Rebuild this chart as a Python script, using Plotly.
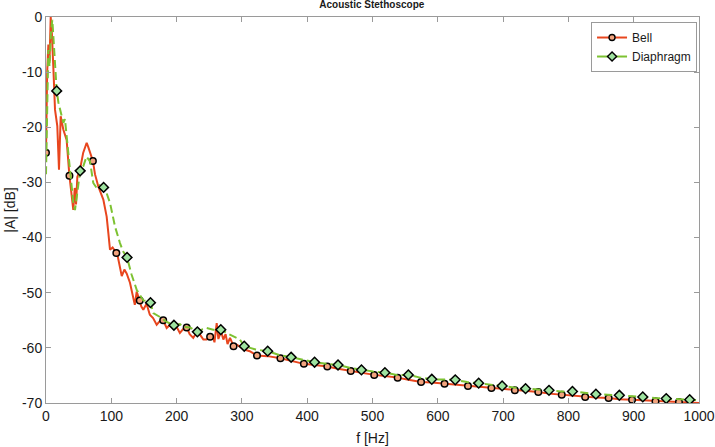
import plotly.graph_objects as go

# ---------------- data ----------------
bell_f = [0, 1.8, 3.6, 5.4, 7.2, 9.0, 11.2, 13.8, 17.3, 19.9, 22.5, 26.5, 31.6, 34.0, 35.9,
          38, 40, 41.8, 44, 46, 48, 52, 57, 62.3, 64.5, 67.4, 71.8, 75, 80, 87.8, 92.9, 95.5,
          98, 102, 105.7, 107.7, 110, 113, 116, 120, 123.5, 128.6, 133.7, 136, 138.9, 143.6,
          146, 149, 154, 159, 164, 169.5, 174, 179.5, 184.8, 190, 195, 200, 205, 210, 215.4,
          220, 225.5, 230, 235.8, 241, 246, 251.3, 255, 258, 261.4, 264, 268, 271.6, 275, 278,
          281.8, 287.2, 292, 303.6, 312, 323.1, 339.5, 359.0, 375.4, 394.9, 411.3, 430.8,
          447.2, 466.7, 483.1, 502.6, 519.0, 538.5, 554.9, 574.4, 590.8, 610.3, 626.7, 646.2,
          662.6, 682.1, 698.5, 718.0, 734.4, 753.9, 770.3, 789.8, 806.2, 825.7, 842.1, 861.6,
          878.0, 897.5, 913.9, 933.4, 949.8, 969.3, 985.7, 1000]
bell_db = [-24.6, -10, -5, -8, 0, -3, -9, -16.8, -19.8, -27.7, -18, -20.4, -22.3, -26.5, -28.8,
           -31, -33.5, -35, -31, -34, -29, -27.7, -24.6, -22.8, -23.5, -24.6, -26.1, -28.5, -30.7,
           -33.1, -36.2, -39.2, -42.2, -41.8, -42.5, -42.8, -43.5, -45.5, -47, -45.8, -46.5,
           -48.2, -50.7, -52.2, -49.8, -51.4, -52.5, -53.1, -52, -54, -54.6, -55.8, -55.2, -55.0,
           -56.4, -55.8, -56.5, -56.2, -57.3, -56.6, -56.3, -57.5, -58.2, -57.3, -57.6, -58.5,
           -58.5, -58.0, -57.8, -59, -55.5, -58.4, -57, -58.5, -57.5, -59.3, -58.2, -59.7, -59.4,
           -60.3, -60.6, -61.4, -61.5, -61.9, -62.4, -62.9, -63.1, -63.4, -63.8, -64.2, -64.6,
           -64.9, -65.1, -65.4, -65.8, -66.2, -66.3, -66.5, -66.7, -66.9, -67.1, -67.3, -67.5,
           -67.7, -67.9, -68.0, -68.3, -68.5, -68.7, -68.9, -69.0, -69.1, -69.3, -69.4, -69.5,
           -69.7, -69.8, -69.8, -69.9, -70.0]

dia_f = [0, 1.5, 3.5, 5.4, 7.5, 9.7, 11.5, 13.8, 16.4, 19, 21.4, 24, 26.6, 29, 31.6, 34, 36.8,
         39.3, 41.8, 44.4, 47, 49.5, 52.3, 57, 62, 67.4, 72.4, 77.6, 82, 88.2, 93, 98, 103,
         105.7, 113.3, 118, 124.1, 131, 139, 149, 154, 160.0, 164.3, 174.5, 184.8, 195.9, 205,
         212, 220.5, 231.8, 240, 246, 256, 267.7, 276.7, 286.8, 297, 303.6, 321, 339.5, 357,
         375.4, 393, 411.3, 429, 447.2, 465, 483.1, 501, 519.0, 537, 554.9, 573, 590.8, 609,
         626.7, 645, 662.6, 680, 698.5, 716, 734.4, 752, 770.3, 788, 806.2, 824, 842.1, 860,
         878.0, 896, 913.9, 932, 949.8, 968, 985.7, 1000]
dia_db = [-28.5, -18, -6, -9, -3, -0.5, -4, -8.9, -13.4, -15.5, -16.8, -18, -19.2, -18.5, -21.6,
          -23.5, -26.5, -30.7, -33.7, -35, -32.5, -30.1, -27.9, -27.1, -25.3, -26.2, -30.1, -31,
          -30.5, -30.9, -32, -33.7, -36.2, -38, -41, -42.5, -43.6, -46.7, -49.5, -51.4, -51.5,
          -51.8, -53.7, -54.4, -55.3, -55.9, -55.7, -56.2, -56.3, -57.1, -56.6, -56.4, -56.7,
          -56.7, -57.3, -57.9, -58.5, -59.7, -60.3, -60.6, -61.3, -61.7, -62.2, -62.6, -62.9,
          -63.1, -63.6, -64.0, -64.3, -64.5, -64.9, -64.9, -65.4, -65.7, -65.8, -65.8, -66.2,
          -66.4, -66.7, -66.9, -67.2, -67.4, -67.6, -67.7, -67.9, -67.9, -68.2, -68.4, -68.5,
          -68.6, -68.8, -68.9, -69.1, -69.2, -69.3, -69.4, -69.5]

bell_marker_f = [0, 35.9, 71.8, 107.7, 143.6, 179.5, 215.4, 251.3, 287.2, 323.1, 359.0, 394.9,
                 430.8, 466.7, 502.6, 538.5, 574.4, 610.3, 646.2, 682.1, 718.0, 753.9, 789.8,
                 825.7, 861.6, 897.5, 933.4, 969.3]
bell_marker_db = [-24.6, -28.8, -26.1, -42.8, -51.4, -55.0, -56.3, -58.0, -59.7, -61.4, -61.9,
                  -62.9, -63.4, -64.2, -64.9, -65.4, -66.2, -66.5, -66.9, -67.3, -67.7, -68.0,
                  -68.5, -68.9, -69.1, -69.4, -69.7, -69.8]

dia_marker_f = [16.4, 52.3, 88.2, 124.1, 160.0, 195.9, 231.8, 267.7, 303.6, 339.5, 375.4, 411.3,
                447.2, 483.1, 519.0, 554.9, 590.8, 626.7, 662.6, 698.5, 734.4, 770.3, 806.2,
                842.1, 878.0, 913.9, 949.8, 985.7]
dia_marker_db = [-13.4, -27.9, -30.9, -43.6, -51.8, -55.9, -57.1, -56.7, -59.7, -60.6, -61.7,
                 -62.6, -63.1, -64.0, -64.5, -64.9, -65.7, -65.8, -66.4, -66.9, -67.4, -67.7,
                 -67.9, -68.4, -68.6, -68.9, -69.2, -69.4]

x_ticks = [0, 100, 200, 300, 400, 500, 600, 700, 800, 900, 1000]
y_ticks = [0, -10, -20, -30, -40, -50, -60, -70]

series_names = ["Bell", "Diaphragm"]
title_text = "Acoustic Stethoscope"
x_label = "f [Hz]"
y_label = "|A| [dB]"

# ---------------- styles ----------------
BELL_LINE = "#E8461E"
BELL_FILL = "#F2A47E"
DIA_LINE = "#7DC232"
DIA_FILL = "#9FE3A0"
AX = "#9a9a9a"
FONT = "Liberation Sans, Arial, sans-serif"

fig = go.Figure()

fig.add_trace(go.Scatter(x=bell_f, y=bell_db, mode="lines", showlegend=False,
                         line=dict(color=BELL_LINE, width=2), hoverinfo="skip"))
fig.add_trace(go.Scatter(x=bell_marker_f, y=bell_marker_db, mode="markers", showlegend=False,
                         marker=dict(symbol="circle", size=6.5, color=BELL_FILL,
                                     line=dict(color="black", width=1.5))))
fig.add_trace(go.Scatter(x=dia_f, y=dia_db, mode="lines", showlegend=False,
                         line=dict(color=DIA_LINE, width=2, dash="8px,4px"), hoverinfo="skip"))
fig.add_trace(go.Scatter(x=dia_marker_f, y=dia_marker_db, mode="markers", showlegend=False,
                         marker=dict(symbol="diamond", size=7.5, color=DIA_FILL,
                                     line=dict(color="black", width=1.5))))

# legend entries
fig.add_trace(go.Scatter(x=[None], y=[None], mode="lines+markers", name=series_names[0],
                         line=dict(color=BELL_LINE, width=2),
                         marker=dict(symbol="circle", size=6, color=BELL_FILL,
                                     line=dict(color="black", width=1.4))))
fig.add_trace(go.Scatter(x=[None], y=[None], mode="lines+markers", name=series_names[1],
                         line=dict(color=DIA_LINE, width=2),
                         marker=dict(symbol="diamond", size=7, color=DIA_FILL,
                                     line=dict(color="black", width=1.4))))

axis_common = dict(showline=True, linecolor=AX, linewidth=1, mirror="ticks",
                   ticks="inside", ticklen=5, tickcolor=AX, tickwidth=1,
                   showgrid=False, zeroline=False, automargin=False,
                   tickfont=dict(family=FONT, size=14, color="#1a1a1a"))

fig.update_layout(
    width=715, height=447,
    margin=dict(l=46, r=16, t=17, b=44, autoexpand=False),
    paper_bgcolor="white", plot_bgcolor="white",
    title=dict(text="<b>" + title_text + "</b>", x=0.52, xanchor="center", y=0.997, yanchor="top",
               font=dict(family=FONT, size=10, color="#1a1a1a")),
    xaxis=dict(range=[0, 1000], tickvals=x_ticks, ticktext=[str(v) for v in x_ticks],
               title=dict(text=x_label, standoff=10, font=dict(family=FONT, size=14, color="#1a1a1a")),
               **axis_common),
    yaxis=dict(range=[-70, 0], tickvals=y_ticks, ticktext=[str(v) for v in y_ticks],
               title=dict(text=y_label, standoff=3, font=dict(family=FONT, size=14, color="#1a1a1a")),
               **axis_common),
    legend=dict(x=0.997, y=0.987, xanchor="right", yanchor="top",
                bgcolor="white", bordercolor=AX, borderwidth=1,
                font=dict(family=FONT, size=12, color="#1a1a1a"),
                itemwidth=30, tracegroupgap=0, traceorder="normal"),
    showlegend=True,
)

fig.write_html("out.html", config={"displayModeBar": False},
               post_script="document.body.style.margin='0px';")
